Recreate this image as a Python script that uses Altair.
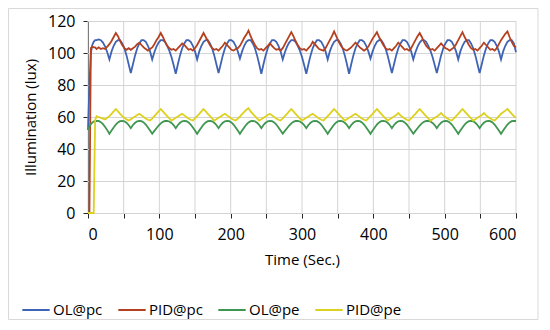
import altair as alt
import pandas as pd

series_names = ["OL@pc", "PID@pc", "OL@pe", "PID@pe"]
series_colors = ["#3F64B5", "#B5401F", "#3F9650", "#DDD11E"]

start_times = [0, 2, 4, 6, 8, 10]
main_times = list(range(12, 601, 3))

x_ticks = [0, 50, 100, 150, 200, 250, 300, 350, 400, 450, 500, 550, 600]
y_ticks = [0, 20, 40, 60, 80, 100, 120]

ol_pc_start = [52, 80, 100, 105, 107, 108]
ol_pc = [
    108, 108.5, 108, 106.5, 104, 100.5, 96, 101, 104.5, 107,
    108, 108, 106, 103, 98.5, 93, 87.5, 93, 98.5, 103,
    106, 108, 108, 107, 104.5, 101, 96, 100.5, 104, 106.5,
    108, 108, 107, 104.5, 101.5, 97.5, 92.5, 87, 93, 98.5,
    103, 106, 108, 108, 107, 104.5, 101, 96, 101, 104.5,
    107, 108, 108, 106, 103, 98.5, 93, 87.5, 93, 98.5,
    103, 106, 108, 108, 107, 104.5, 101, 96.5, 101, 104.5,
    107, 108, 108, 106, 103, 98.5, 93, 87, 93, 98.5,
    103, 106, 108, 108, 107, 104.5, 101, 96, 100.5, 104,
    106.5, 108, 108, 107, 104.5, 101.5, 97.5, 92.5, 87, 93,
    98.5, 103, 106, 108, 108, 107, 104.5, 101, 96, 101,
    104.5, 107, 108, 108, 106, 103, 98.5, 93, 87, 93,
    98.5, 103, 106, 108, 108, 107, 104.5, 101, 96.5, 101,
    104.5, 107, 108, 108, 106, 103, 98.5, 93, 87.5, 93,
    98.5, 103, 106, 108, 108, 107, 104.5, 101, 96, 100.5,
    104, 106.5, 108, 108, 107, 104.5, 101.5, 97.5, 92.5, 87.5,
    93, 98.5, 103, 106, 108, 108, 107, 104.5, 101, 96,
    101, 104.5, 107, 108, 108, 106, 103, 98.5, 93, 87.5,
    93, 98.5, 103, 106, 108, 108, 107, 104.5, 101, 96,
    101, 104.5, 107, 108, 108, 106, 100.5,
]

pid_pc_start = [0, 0, 103, 104, 103.5, 103.5]
pid_pc = [
    102.5, 103.5, 102.5, 103, 102.5, 104, 105.5, 107.5, 110, 112.5,
    110.5, 107.5, 105, 103, 102, 103, 102, 103, 104, 105.5,
    106.5, 105, 103.5, 102.5, 101.5, 102.5, 103.5, 105.5, 108, 110,
    112.5, 110, 107, 104.5, 103, 102, 102.5, 101.5, 103, 104.5,
    106, 105, 103.5, 102, 102.5, 101.5, 103, 105, 107.5, 110,
    112.5, 110, 107.5, 105, 103, 102, 102.5, 101.5, 103, 104.5,
    106.5, 105, 103.5, 102, 101.5, 102.5, 103, 104.5, 107, 109.5,
    111.5, 114, 110.5, 107.5, 105, 103, 102, 102.5, 101.5, 103,
    104.5, 106, 104.5, 103, 102, 102.5, 101.5, 103, 105.5, 108,
    110.5, 113, 110.5, 107.5, 105, 103, 102, 102.5, 101.5, 103,
    104.5, 107, 105.5, 104, 102.5, 102, 101.5, 103, 105.5, 108,
    110.5, 113.5, 110.5, 107.5, 105, 103, 102, 101.5, 102.5, 103.5,
    105, 106.5, 105, 103.5, 102.5, 101.5, 102.5, 104, 106.5, 109,
    111, 113, 110, 107.5, 105, 103, 102, 102.5, 101.5, 103,
    104.5, 106.5, 105, 103.5, 102, 102.5, 101.5, 103, 105.5, 108,
    110.5, 112.5, 110, 107, 104.5, 103, 102, 102.5, 101.5, 103,
    104.5, 106, 104.5, 103, 102.5, 101.5, 102.5, 103.5, 105.5, 108,
    110.5, 113, 110, 107.5, 105, 103, 102, 102.5, 101.5, 103,
    104.5, 106.5, 105, 103.5, 102, 102.5, 101.5, 103, 105.5, 108,
    110, 112, 113.5, 110, 107, 104.5, 103.5,
]

ol_pe_start = [52, 54, 55.5, 56.5, 57.2, 57.5]
ol_pe = [
    57.6, 57.5, 56.8, 55.5, 53.8, 51.8, 49.5, 51.5, 53.5, 55.3,
    56.6, 57.4, 57.6, 57.3, 56.4, 55, 53, 55, 56.4, 57.3,
    57.6, 57.4, 56.6, 55.3, 53.5, 51.5, 49.5, 51.3, 53, 54.7,
    56, 57, 57.5, 57.6, 57.2, 56.3, 55, 53, 55, 56.4,
    57.3, 57.6, 57.4, 56.6, 55.3, 53.5, 51.5, 49.5, 51.5, 53.5,
    55.3, 56.6, 57.4, 57.6, 57.3, 56.4, 55, 53, 55, 56.4,
    57.3, 57.6, 57.4, 56.6, 55.3, 53.5, 51.5, 49.5, 51.5, 53.5,
    55.3, 56.6, 57.4, 57.6, 57.3, 56.4, 55, 53, 55, 56.4,
    57.3, 57.6, 57.4, 56.6, 55.3, 53.5, 51.5, 49.5, 51.3, 53,
    54.7, 56, 57, 57.5, 57.6, 57.2, 56.3, 55, 53, 55,
    56.4, 57.3, 57.6, 57.4, 56.6, 55.3, 53.5, 51.5, 49.5, 51.5,
    53.5, 55.3, 56.6, 57.4, 57.6, 57.3, 56.4, 55, 53, 55,
    56.4, 57.3, 57.6, 57.4, 56.6, 55.3, 53.5, 51.5, 49.5, 51.5,
    53.5, 55.3, 56.6, 57.4, 57.6, 57.3, 56.4, 55, 53, 55,
    56.4, 57.3, 57.6, 57.4, 56.6, 55.3, 53.5, 51.5, 49.5, 51.3,
    53, 54.7, 56, 57, 57.5, 57.6, 57.2, 56.3, 55, 53,
    55, 56.4, 57.3, 57.6, 57.4, 56.6, 55.3, 53.5, 51.5, 49.5,
    51.5, 53.5, 55.3, 56.6, 57.4, 57.6, 57.3, 56.4, 55, 53,
    55, 56.4, 57.3, 57.6, 57.4, 56.6, 55.3, 53.5, 51.5, 49.5,
    51.5, 53.5, 55.3, 56.6, 57.4, 57.6, 57.5,
]

pid_pe_start = [0, 0, 0, 0, 0, 58]
pid_pe = [
    60.5, 60, 59.5, 59, 58.5, 59.5, 60.5, 62, 63.5, 65,
    63.5, 62, 60.5, 59.5, 58.5, 57.8, 58.5, 59.5, 60.3, 61.2,
    62, 61, 60, 59, 58.3, 57.8, 59, 60.5, 62, 63.5,
    65, 63.5, 62, 60.5, 59.2, 57.8, 58.6, 59.5, 60.3, 61.2,
    62, 61, 60, 59, 58.3, 57.8, 59.2, 60.6, 62, 63.5,
    65, 63.5, 62, 60.5, 59.2, 57.8, 58.6, 59.5, 60.3, 61.2,
    62, 61, 60, 59, 58.3, 57.8, 59, 60.3, 61.8, 63.2,
    64.5, 65.5, 63.5, 62, 60.5, 59.2, 57.8, 58.6, 59.5, 60.3,
    61.2, 62, 61, 60, 59, 58.3, 57.8, 59.2, 60.6, 62,
    63.5, 65, 63.5, 62, 60.5, 59.2, 57.8, 58.6, 59.5, 60.3,
    61.2, 62, 61, 60, 59, 58.3, 57.8, 59.2, 60.6, 62,
    63.5, 65, 63.5, 62, 60.5, 59.2, 57.8, 58.6, 59.5, 60.3,
    61.2, 62, 61, 60, 59, 58.3, 57.8, 59.2, 60.6, 62,
    63.5, 65, 63.5, 62, 60.5, 59.2, 57.8, 58.6, 59.5, 60.3,
    61.2, 62.5, 61, 60, 59, 58.3, 57.8, 59.2, 60.6, 62,
    63.5, 65, 63.5, 62, 60.5, 59.2, 57.8, 58.6, 59.5, 60.3,
    61.2, 62.5, 61, 60, 59, 58.3, 57.8, 59.2, 60.6, 62,
    63.5, 65, 63.5, 62, 60.5, 59.2, 57.8, 58.6, 59.5, 60.3,
    61.2, 62.5, 61, 60, 59, 58.3, 57.8, 59.2, 60.6, 62,
    63, 64, 65, 63.5, 62, 60.5, 59.5,
]

times = start_times + main_times
all_values = [
    ol_pc_start + ol_pc,
    pid_pc_start + pid_pc,
    ol_pe_start + ol_pe,
    pid_pe_start + pid_pe,
]

rows = []
for k, (name, vals) in enumerate(zip(series_names, all_values)):
    assert len(vals) == len(times), (name, len(vals), len(times))
    for i, (t, v) in enumerate(zip(times, vals)):
        rows.append({"t": t, "v": v, "series": name, "k": k, "i": i})
df = pd.DataFrame(rows)

FONT = "Open Sans"
AX = "#262626"
GRID = "#d4d4d4"

x_enc = alt.X(
    "t:Q",
    scale=alt.Scale(domain=[0, 600], nice=False),
    axis=alt.Axis(
        values=x_ticks, title="Time (Sec.)", grid=False, ticks=True, tickSize=5,
        tickColor=AX, domainColor=AX, labelPadding=8, titlePadding=10,
    ),
)
y_enc = alt.Y(
    "v:Q",
    scale=alt.Scale(domain=[0, 120], nice=False),
    axis=alt.Axis(
        values=y_ticks, title="Illumination (lux)", grid=False, ticks=True, tickSize=5,
        tickColor=AX, domainColor=AX, labelPadding=8, labelOverlap=False,
        titlePadding=9,
    ),
)

grid_h = alt.Chart(pd.DataFrame({"v": y_ticks})).mark_rule(
    color=GRID, strokeWidth=1, yOffset=0.5, opacity=1
).encode(y=y_enc)

grid_v = alt.Chart(pd.DataFrame({"t": x_ticks})).mark_rule(
    color=GRID, strokeWidth=1, opacity=1
).encode(x=x_enc)

lines = alt.Chart(df).mark_line(strokeWidth=1.8).encode(
    x=x_enc,
    y=y_enc,
    color=alt.Color(
        "series:N",
        scale=alt.Scale(domain=series_names, range=series_colors),
        title=None,
        legend=alt.Legend(
            orient="none",
            legendX=-67,
            legendY=274,
            direction="horizontal",
            symbolType="stroke",
            symbolSize=750,
            symbolStrokeWidth=2,
            labelFont=FONT,
            labelFontSize=15,
            labelColor="#000000",
            labelOffset=2,
            columnPadding=11,
        ),
    ),
    order=alt.Order("i:Q"),
)

frame = alt.Chart(pd.DataFrame({"a": [0]})).mark_rect(
    fillOpacity=0, stroke="#d9d9d9", strokeWidth=1
).encode(
    x=alt.value(-79.5), x2=alt.value(450), y=alt.value(-12.5), y2=alt.value(298.5)
)

chart = alt.layer(frame, grid_h, grid_v, lines).properties(
    width=428,
    height=192,
    autosize=alt.AutoSizeParams(type="none"),
    padding={"left": 80, "top": 13, "right": 26, "bottom": 107},
).configure_view(strokeWidth=0).configure_axis(
    labelFont=FONT,
    labelFontSize=16,
    labelColor="#000000",
    titleFont=FONT,
    titleFontSize=15,
    titleFontWeight="normal",
    titleColor="#000000",
)

chart.save("out.html", embed_options={"renderer": "svg", "actions": False})
